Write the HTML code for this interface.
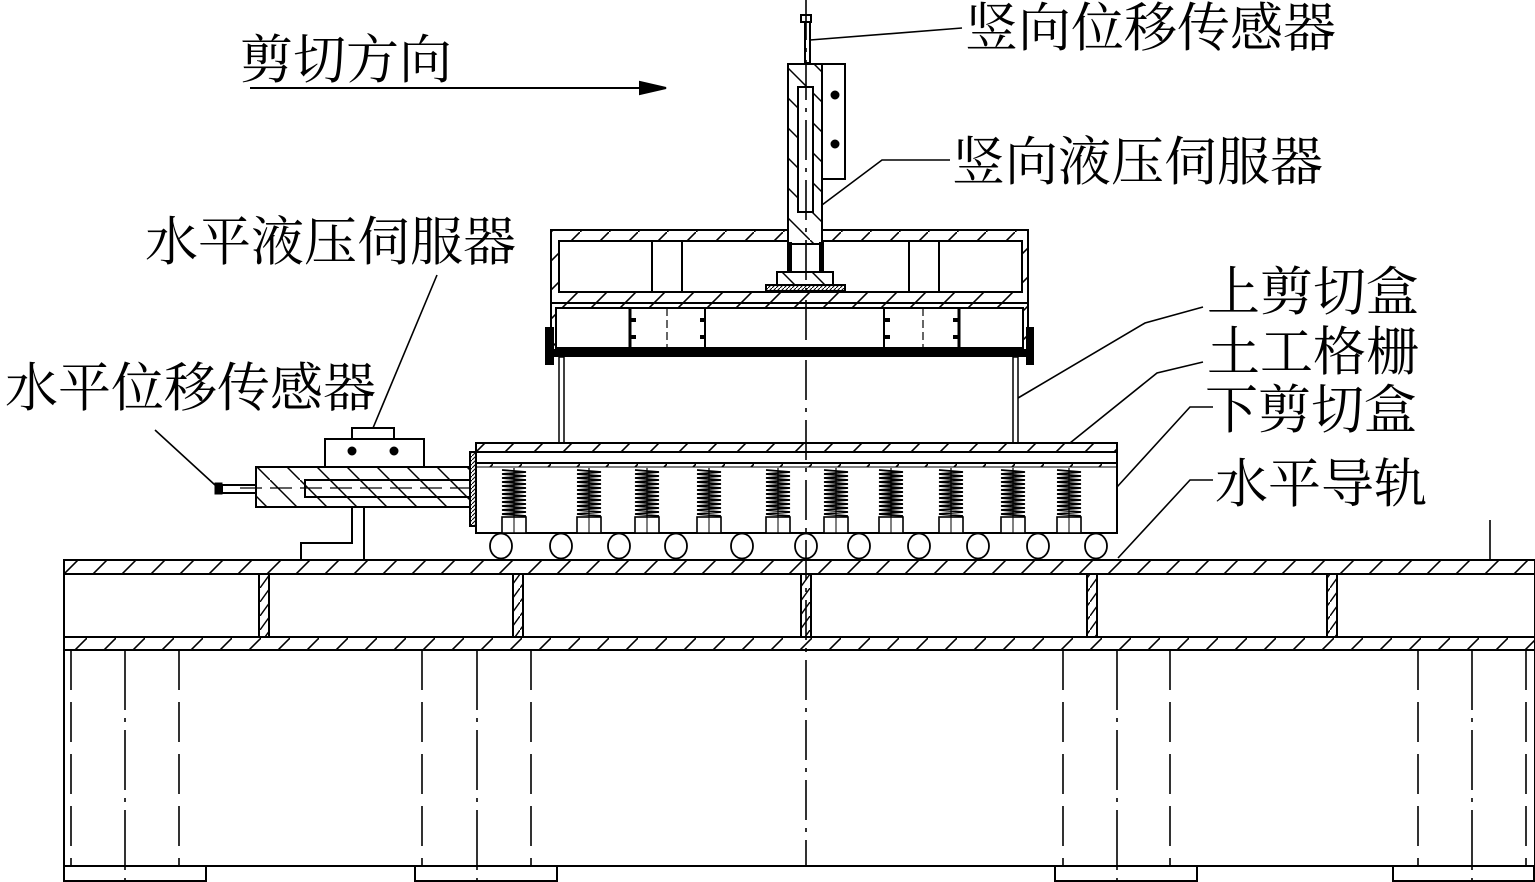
<!DOCTYPE html>
<html><head><meta charset="utf-8"><style>
html,body{margin:0;padding:0;background:#fff;}
svg{display:block;}
text{font-family:"Liberation Serif","Noto Serif CJK SC",serif;font-size:53px;fill:#000;}
</style></head><body>
<svg width="1535" height="882" viewBox="0 0 1535 882" xmlns="http://www.w3.org/2000/svg">
<defs>
<pattern id="h" patternUnits="userSpaceOnUse" width="29" height="29">
<line x1="0" y1="29" x2="29" y2="0" stroke="#000" stroke-width="1.6"/>
</pattern>
<pattern id="hv" patternUnits="userSpaceOnUse" width="10" height="14">
<line x1="0" y1="14" x2="10" y2="0" stroke="#000" stroke-width="1.4"/>
</pattern>
<pattern id="hd" patternUnits="userSpaceOnUse" width="30" height="30">
<line x1="0" y1="0" x2="30" y2="30" stroke="#000" stroke-width="1.5"/>
</pattern>
<pattern id="fine" patternUnits="userSpaceOnUse" width="4" height="4">
<line x1="0" y1="4" x2="4" y2="0" stroke="#000" stroke-width="1"/>
</pattern>
<g id="sp" stroke="#000" fill="none">
<path stroke-width="1.8" d="M-12,470 L12,472 L-12,474 L12,476 L-12,478 L12,480 L-12,482 L12,484 L-12,486 L12,488 L-12,490 L12,492 L-12,494 L12,496 L-12,498 L12,500 L-12,502 L12,504 L-12,506 L12,508 L-12,510 L12,512 L-12,514 L12,516"/>
<line x1="0" y1="468" x2="0" y2="517" stroke-width="1.2"/>
<rect x="-12" y="517" width="24" height="16" fill="#fff" stroke-width="1.6"/>
<line x1="0" y1="517" x2="0" y2="533" stroke-width="1"/>
</g>
</defs>
<g fill="none" stroke="#000" stroke-width="2">
<!-- base platform -->
<rect x="64" y="560" width="1471" height="14" fill="url(#h)"/>
<rect x="64" y="574" width="1471" height="63"/>
<rect x="64" y="637" width="1471" height="13" fill="url(#h)"/>
<rect x="259" y="574" width="10" height="63" fill="url(#hv)"/>
<rect x="513" y="574" width="10" height="63" fill="url(#hv)"/>
<rect x="801" y="574" width="10" height="63" fill="url(#hv)"/>
<rect x="1087" y="574" width="10" height="63" fill="url(#hv)"/>
<rect x="1327" y="574" width="10" height="63" fill="url(#hv)"/>
<rect x="64" y="650" width="1471" height="216"/>
<rect x="64" y="866" width="142" height="15"/>
<rect x="415" y="866" width="142" height="15"/>
<rect x="1055" y="866" width="142" height="15"/>
<rect x="1393" y="866" width="141" height="15"/>
<g stroke-width="1.6" stroke-dasharray="40,12">
<line x1="71" y1="650" x2="71" y2="866"/><line x1="179" y1="650" x2="179" y2="866"/>
<line x1="422" y1="650" x2="422" y2="866"/><line x1="531" y1="650" x2="531" y2="866"/>
<line x1="1063" y1="650" x2="1063" y2="866"/><line x1="1170" y1="650" x2="1170" y2="866"/>
<line x1="1418" y1="650" x2="1418" y2="866"/><line x1="1526" y1="650" x2="1526" y2="866"/>
</g>
<g stroke-width="1.6" stroke-dasharray="60,8,4,8">
<line x1="125" y1="650" x2="125" y2="881"/><line x1="477" y1="650" x2="477" y2="881"/>
<line x1="1117" y1="650" x2="1117" y2="881"/><line x1="1472" y1="650" x2="1472" y2="881"/>
</g>
<line x1="1490" y1="520" x2="1490" y2="560" stroke-width="1.6"/>

<!-- rollers -->
<g stroke-width="1.8">
<ellipse cx="501" cy="546" rx="11" ry="12.5"/><ellipse cx="561" cy="546" rx="11" ry="12.5"/>
<ellipse cx="619" cy="546" rx="11" ry="12.5"/><ellipse cx="676" cy="546" rx="11" ry="12.5"/>
<ellipse cx="742" cy="546" rx="11" ry="12.5"/><ellipse cx="806" cy="546" rx="11" ry="12.5"/>
<ellipse cx="859" cy="546" rx="11" ry="12.5"/><ellipse cx="919" cy="546" rx="11" ry="12.5"/>
<ellipse cx="978" cy="546" rx="11" ry="12.5"/><ellipse cx="1038" cy="546" rx="11" ry="12.5"/>
<ellipse cx="1096" cy="546" rx="11" ry="12.5"/>
</g>

<!-- lower box -->
<rect x="476" y="443" width="641" height="9" fill="url(#h)"/>
<rect x="476" y="452" width="641" height="81"/>
<line x1="476" y1="463" x2="1117" y2="463"/>
<rect x="476" y="463" width="641" height="4" fill="url(#h)" stroke-width="1"/>
<rect x="470" y="452" width="6" height="74" fill="url(#fine)"/>

<!-- upper box posts -->
<rect x="559" y="357" width="5" height="86" stroke-width="1.5"/>
<rect x="1013" y="357" width="5" height="86" stroke-width="1.5"/>
<!-- upper box -->
<rect x="551" y="230" width="477" height="73" fill="url(#h)"/>
<rect x="559" y="241" width="463" height="51" fill="#fff"/>
<line x1="652" y1="241" x2="652" y2="292"/><line x1="682" y1="241" x2="682" y2="292"/>
<line x1="909" y1="241" x2="909" y2="292"/><line x1="939" y1="241" x2="939" y2="292"/>
<line x1="551" y1="303" x2="1028" y2="303"/>
<rect x="551" y="303" width="477" height="47" fill="url(#h)"/>
<rect x="556" y="308" width="467" height="40" fill="#fff"/>
<line x1="630" y1="308" x2="630" y2="348" stroke-width="3"/>
<line x1="705" y1="308" x2="705" y2="348" stroke-width="2"/>
<line x1="884" y1="308" x2="884" y2="348" stroke-width="2"/>
<line x1="959" y1="308" x2="959" y2="348" stroke-width="3"/>
<line x1="667" y1="308" x2="667" y2="348" stroke-width="1.2" stroke-dasharray="8,4"/>
<line x1="923" y1="308" x2="923" y2="348" stroke-width="1.2" stroke-dasharray="8,4"/>
<g fill="#000" stroke="none">
<rect x="630" y="318" width="6" height="4"/><rect x="630" y="335" width="6" height="4"/>
<rect x="700" y="318" width="6" height="4"/><rect x="700" y="335" width="6" height="4"/>
<rect x="884" y="318" width="6" height="4"/><rect x="884" y="335" width="6" height="4"/>
<rect x="953" y="318" width="6" height="4"/><rect x="953" y="335" width="6" height="4"/>
<rect x="545" y="350" width="488" height="7"/>
<rect x="545" y="327" width="9" height="38"/>
<rect x="1026" y="327" width="8" height="38"/>
</g>

<!-- vertical actuator -->
<rect x="788" y="64" width="34" height="180" fill="#fff"/>
<rect x="788" y="64" width="34" height="180" fill="url(#hd)"/>
<rect x="798" y="87" width="15" height="125" fill="#fff"/>
<rect x="822" y="64" width="23" height="115" fill="#fff"/>
<circle cx="835" cy="95" r="3.5" fill="#000"/><circle cx="835" cy="144" r="3.5" fill="#000"/>
<rect x="805" y="16" width="5" height="47" fill="#fff"/>
<rect x="801" y="15" width="10" height="7" fill="#fff"/>
<rect x="788" y="243" width="3" height="28" fill="#000"/>
<rect x="820" y="243" width="3" height="28" fill="#000"/>
<rect x="777" y="272" width="56" height="13" fill="url(#hd)"/>
<rect x="766" y="285" width="79" height="6" fill="url(#fine)"/>

<!-- horizontal actuator -->
<rect x="256" y="467" width="214" height="40" fill="url(#hd)"/>
<rect x="305" y="480" width="165" height="17"/>
<rect x="325" y="439" width="99" height="28" fill="#fff"/>
<rect x="352" y="428" width="42" height="11" fill="#fff"/>
<circle cx="352" cy="451" r="3.5" fill="#000"/><circle cx="394" cy="451" r="3.5" fill="#000"/>
<rect x="222" y="485" width="34" height="8" fill="#fff"/>
<rect x="215" y="483" width="7" height="11" fill="#000" stroke-width="1"/>
<line x1="240" y1="488" x2="470" y2="488" stroke-width="1.2" stroke-dasharray="22,8"/>
<polyline points="352,507 352,543 301,543 301,559"/>
<line x1="364" y1="507" x2="364" y2="559"/>

<!-- center line -->
<line x1="806" y1="0" x2="806" y2="866" stroke-width="1.6" stroke-dasharray="40,8,4,8"/>

<!-- arrow -->
<line x1="250" y1="88" x2="645" y2="88"/>
<polygon points="640,82 666,88 640,94" fill="#000"/>

<!-- leaders -->
<g stroke-width="1.6">
<polyline points="810,40 962,28"/>
<polyline points="822,205 882,160 950,160"/>
<polyline points="373,428 437,275"/>
<polyline points="215,485 155,430"/>
<polyline points="1018,398 1145,323 1203,307"/>
<polyline points="1070,443 1157,373 1203,362"/>
<polyline points="1117,487 1190,407 1213,407"/>
<polyline points="1118,558 1190,480 1213,480"/>
</g>
</g>

<!-- springs -->
<use href="#sp" transform="translate(514,0)"/><use href="#sp" transform="translate(589,0)"/>
<use href="#sp" transform="translate(647,0)"/><use href="#sp" transform="translate(709,0)"/>
<use href="#sp" transform="translate(778,0)"/><use href="#sp" transform="translate(836,0)"/>
<use href="#sp" transform="translate(891,0)"/><use href="#sp" transform="translate(951,0)"/>
<use href="#sp" transform="translate(1013,0)"/><use href="#sp" transform="translate(1069,0)"/>

<!-- labels -->
<text x="240" y="78">剪切方向</text>
<text x="965" y="46">竖向位移传感器</text>
<text x="952" y="180">竖向液压伺服器</text>
<text x="145" y="260">水平液压伺服器</text>
<text x="5" y="406">水平位移传感器</text>
<text x="1207" y="310">上剪切盒</text>
<text x="1207" y="370">土工格栅</text>
<text x="1205" y="428">下剪切盒</text>
<text x="1215" y="502">水平导轨</text>
</svg>
</body></html>
